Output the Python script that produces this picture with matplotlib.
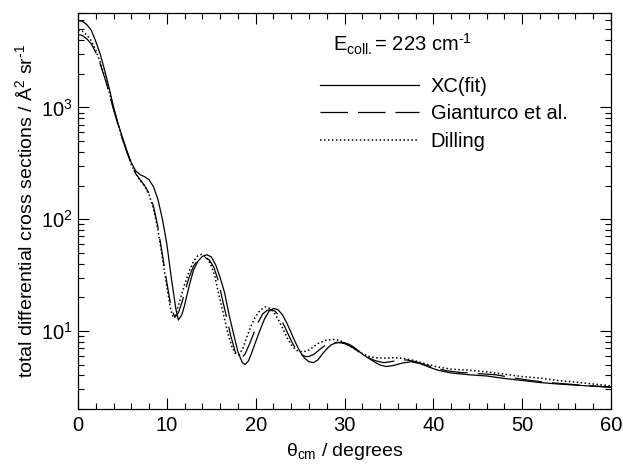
import numpy as np
import matplotlib
matplotlib.use("Agg")
import matplotlib.pyplot as plt
from matplotlib.ticker import MultipleLocator

plt.rcParams['font.family'] = ['Liberation Sans', 'DejaVu Sans']
plt.rcParams['mathtext.fontset'] = 'custom'
plt.rcParams['mathtext.rm'] = 'Liberation Sans'
plt.rcParams['mathtext.it'] = 'Liberation Sans'

# XC(fit)
x_xc = [0, 0.5, 1.0, 1.5, 2.0, 2.5, 3.0, 3.5, 4.0, 4.5, 5.0, 5.5, 6.0, 6.5, 7.0, 7.5,
        8.0, 8.5, 9.0, 9.5, 10.0, 10.5, 11.0, 11.3, 11.7, 12.0, 12.5, 13.0, 13.5, 14.0,
        14.5, 15.0, 15.5, 16.0, 16.5, 17.0, 17.5, 18.0, 18.5, 18.8, 19.2, 19.5, 20.0,
        20.5, 21.0, 21.5, 22.0, 22.5, 23.0, 23.5, 24.0, 24.5, 25.0, 25.5, 26.0, 26.5,
        27.0, 27.5, 28.0, 28.5, 29.0, 29.8, 30.5, 31.0, 31.5, 32.0, 32.7, 33.5, 34.0,
        34.7, 35.5, 36.5, 37.5, 38.5, 39.5, 40.5, 42.0, 44.0, 46.0, 48.0, 50.0, 52.0,
        54.0, 56.0, 58.0, 60.0]
y_xc = [6000, 5900, 5500, 4900, 3900, 3000, 2150, 1500, 1010, 720, 540, 410, 320, 270, 250, 240,
        225, 195, 150, 100, 60, 30, 16, 12.5, 14, 17, 25, 35, 42, 46.5,
        48, 46, 39, 30, 22, 14, 9.5, 6.5, 5.2, 5.0, 5.4, 6.2, 8,
        10.2, 12.8, 15, 15.9, 15.5, 14, 11.8, 9.6, 7.8, 6.5, 5.7, 5.3, 5.2,
        5.5, 6.2, 6.9, 7.5, 7.8, 7.9, 7.6, 7.2, 6.7, 6.2, 5.7, 5.2, 4.95,
        4.8, 4.9, 5.15, 5.3, 5.1, 4.75, 4.45, 4.2, 4.05, 3.95, 3.75, 3.6, 3.45,
        3.35, 3.27, 3.2, 3.12]

# Gianturco et al.
x_gi = [0, 0.5, 1.0, 1.5, 2.0, 2.5, 3.0, 3.5, 4.0, 4.5, 5.0, 5.5, 6.0, 6.5, 7.0, 7.5,
        8.0, 8.5, 9.0, 9.5, 10.0, 10.5, 10.9, 11.3, 11.7, 12.0, 12.5, 13.0, 13.5, 14.0,
        14.3, 14.8, 15.3, 15.8, 16.2, 16.7, 17.2, 17.7, 18.0, 18.4, 18.8, 19.3, 19.8,
        20.3, 20.8, 21.3, 21.7, 22.2, 22.7, 23.2, 23.7, 24.2, 24.7, 25.2, 25.6, 26.0,
        26.6, 27.2, 27.8, 28.5, 29.3, 30.0, 30.8, 31.5, 32.2, 32.8, 33.5, 34.4, 35.2,
        36.0, 37.0, 38.0, 39.0, 40.0, 41.5, 43.0, 45.0, 47.0, 49.0, 51.0, 53.0, 55.0,
        57.0, 60.0]
y_gi = [4500, 4400, 4100, 3700, 3100, 2450, 1850, 1350, 960, 700, 520, 400, 310, 255, 225, 200,
        170, 130, 85, 48, 27, 16, 13.2, 14.5, 18, 22, 30, 38, 43, 45,
        45.5, 43, 37, 28, 20, 13.5, 9, 6.5, 5.9, 5.7, 6.2, 7.6, 9.6,
        12, 14.2, 15.3, 15.5, 15, 13.4, 11.2, 9.2, 7.6, 6.6, 6.1, 5.9, 5.9,
        6.2, 6.8, 7.4, 7.8, 7.9, 7.7, 7.2, 6.6, 6.0, 5.7, 5.4, 5.2, 5.3,
        5.45, 5.5, 5.3, 5.0, 4.7, 4.4, 4.25, 4.15, 4.05, 3.8, 3.6, 3.45, 3.35,
        3.25, 3.15]

# Dilling
x_di = [0, 0.5, 1.0, 1.5, 2.0, 2.5, 3.0, 3.5, 4.0, 4.5, 5.0, 5.5, 6.0, 6.5, 7.0, 7.5,
        8.0, 8.5, 9.0, 9.5, 10.0, 10.4, 10.7, 11.0, 11.5, 12.0, 12.5, 13.0, 13.5, 13.9,
        14.4, 14.9, 15.4, 15.8, 16.3, 16.8, 17.3, 17.7, 18.05, 18.5, 19.0, 19.5, 20.0,
        20.5, 21.1, 21.6, 22.1, 22.6, 23.1, 23.6, 24.1, 24.6, 25.2, 25.8, 26.4, 27.0,
        27.8, 28.7, 29.5, 30.3, 31.0, 31.8, 32.6, 33.5, 34.5, 35.5, 36.5, 37.8, 39.0,
        40.5, 42.0, 44.0, 46.0, 48.0, 50.0, 52.0, 54.0, 56.0, 58.0, 60.0]
y_di = [4900, 4800, 4450, 3950, 3250, 2550, 1900, 1380, 980, 710, 525, 400, 310, 255, 222, 197,
        165, 125, 80, 45, 25, 16, 13.3, 14, 19, 26, 34, 42, 47, 48.5,
        46, 40, 31, 22, 15, 10, 7.3, 6.3, 6.1, 6.8, 8.8, 11.2, 13.5,
        15.3, 16.4, 15.9, 14.5, 12.4, 10.3, 8.5, 7.3, 6.7, 6.5, 6.6, 7.1, 7.7,
        8.2, 8.4, 8.2, 7.6, 7.0, 6.4, 5.95, 5.75, 5.7, 5.75, 5.7, 5.45, 5.1,
        4.75, 4.55, 4.45, 4.3, 4.1, 3.9, 3.78, 3.6, 3.48, 3.35, 3.22]

fig = plt.figure(figsize=(6.23, 4.65), dpi=100)
ax = fig.add_axes([78/623, 1-409/465, (611-78)/623, (409-13)/465])

ax.plot(x_xc, y_xc, color='black', lw=0.9, ls='-', label='XC(fit)')
ax.plot(x_gi, y_gi, color='black', lw=0.9, ls=(0, (22, 8)), label='Gianturco et al.')
ax.plot(x_di, y_di, color='black', lw=1.1, ls=(0, (1, 1.6)), label='Dilling')

ax.set_yscale('log')
ax.set_xlim(0, 60)
ax.set_ylim(2, 7000)

ax.xaxis.set_major_locator(MultipleLocator(10))
ax.xaxis.set_minor_locator(MultipleLocator(2))
ax.tick_params(which='both', direction='in', top=True, right=True, labelsize=14.5, width=0.8)
ax.tick_params(which='major', length=8)
ax.tick_params(which='minor', length=4)
ax.tick_params(axis='x', pad=5)
for s in ax.spines.values():
    s.set_linewidth(0.9)

ax.set_xlabel(r'$\mathrm{\theta_{cm}}$ / degrees', fontsize=14, labelpad=4)
ax.set_ylabel(r'total differential cross sections / Å$^\mathrm{2}$ sr$^\text{-1}$', fontsize=14, labelpad=4)

ax.text((333-78)/533, 1-(44-13)/396, r'E$_\mathrm{coll.}$= 223 cm$^\text{-1}$',
        transform=ax.transAxes, fontsize=14.5, va='center', ha='left')
leg = ax.legend(loc='upper left', bbox_to_anchor=((320-78)/533, 1-(77-13)/396), frameon=False,
                fontsize=14.5, handlelength=4.9, handletextpad=0.6, labelspacing=0.42,
                borderpad=0, borderaxespad=0)

fig.savefig('out.png', dpi=100)
